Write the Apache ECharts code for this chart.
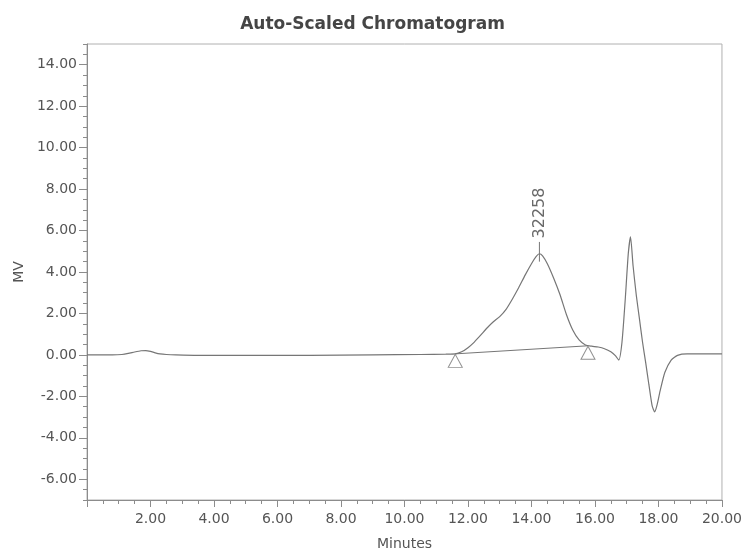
<!DOCTYPE html>
<html>
<head>
<meta charset="utf-8">
<title>Auto-Scaled Chromatogram</title>
<script src="https://cdn.jsdelivr.net/npm/echarts@6/dist/echarts.min.js"></script>
<style>
  html, body { margin: 0; padding: 0; background: #ffffff; }
  #chart { width: 745px; height: 556px; }
</style>
</head>
<body>
<div id="chart"></div>
<script>
// Detector trace: retention time (min) and signal (mV)
const timeMin = [
  0, 0.4, 0.8, 1.1, 1.3, 1.5, 1.7, 1.85, 2.0, 2.15, 2.3, 2.5, 2.8, 3.5, 5, 7, 9, 10.5, 11.3,
  11.6, 11.8, 12.0, 12.2, 12.4, 12.6, 12.8, 13.0, 13.2, 13.4, 13.6, 13.8, 14.0, 14.15, 14.25,
  14.35, 14.5, 14.7, 14.9, 15.1, 15.3, 15.5, 15.7, 15.9, 16.1, 16.3, 16.5, 16.65, 16.75,
  16.85, 16.95, 17.05, 17.12, 17.2, 17.3, 17.4, 17.5, 17.6, 17.7, 17.8, 17.88, 17.95,
  18.05, 18.2, 18.4, 18.6, 18.9, 19.5, 20
];
const signalMv = [
  0.0, 0.0, 0.0, 0.02, 0.07, 0.14, 0.2, 0.21, 0.17, 0.1, 0.05, 0.02, 0.0, -0.02, -0.02, -0.02, 0.0, 0.02, 0.04,
  0.05, 0.15, 0.35, 0.62, 0.95, 1.3, 1.6, 1.85, 2.2, 2.7, 3.25, 3.85, 4.4, 4.75, 4.88,
  4.78, 4.4, 3.7, 2.9, 1.95, 1.2, 0.72, 0.48, 0.42, 0.38, 0.3, 0.15, -0.05, -0.25,
  0.6, 2.6, 4.9, 5.7, 4.3, 2.9, 1.75, 0.6, -0.4, -1.45, -2.45, -2.75, -2.45,
  -1.75, -0.85, -0.25, -0.02, 0.05, 0.05, 0.05
];

// Integration baseline (start / end markers)
const baselineTime = [11.6, 15.78];
const baselineMv = [0.05, 0.44];

// Integrated peak: apex time, tick span and its area label
const peakTime = 14.25;
const peakTickMv = [4.5, 5.45];
const peakLabel = '32258';

// Axis tick labels
const xTickValues = [2, 4, 6, 8, 10, 12, 14, 16, 18, 20];
const yTickValues = [-6, -4, -2, 0, 2, 4, 6, 8, 10, 12, 14];

const FONT = 'DejaVu Sans';
const AXIS_COLOR = '#8c8c8c';
const TRACE_COLOR = '#767676';
const LABEL_COLOR = '#555555';

const chart = echarts.init(document.getElementById('chart'), null, { renderer: 'canvas' });

const trace = timeMin.map((t, i) => [t, signalMv[i]]);
const baseline = baselineTime.map((t, i) => [t, baselineMv[i]]);

const option = {
  backgroundColor: '#ffffff',
  animation: false,
  title: {
    text: 'Auto-Scaled Chromatogram',
    left: 'center',
    top: 11,
    textStyle: { fontFamily: FONT, fontWeight: 'bold', fontSize: 17, color: '#454545' }
  },
  grid: {
    left: 87, right: 21, top: 44, bottom: 50,
    show: true, borderColor: '#b0b0b0', borderWidth: 1, backgroundColor: 'transparent'
  },
  xAxis: [
    {
      type: 'value', min: 0, max: 20, interval: 2, position: 'bottom',
      name: 'Minutes', nameLocation: 'middle', nameGap: 37,
      nameTextStyle: { fontFamily: FONT, fontSize: 14, color: LABEL_COLOR },
      axisLine: { onZero: false, lineStyle: { color: AXIS_COLOR, width: 1 } },
      axisTick: { length: 7, lineStyle: { color: AXIS_COLOR } },
      axisLabel: {
        margin: 12, fontFamily: FONT, fontSize: 14, color: LABEL_COLOR,
        formatter: v => (xTickValues.indexOf(v) >= 0 ? v.toFixed(2) : '')
      },
      splitLine: { show: false }
    },
    {
      type: 'value', min: 0, max: 20, interval: 0.5, position: 'bottom',
      axisLine: { show: false, onZero: false },
      axisTick: { length: 4, lineStyle: { color: AXIS_COLOR } },
      axisLabel: { show: false },
      splitLine: { show: false }
    }
  ],
  yAxis: [
    {
      type: 'value', min: -7, max: 15, position: 'left',
      name: 'MV', nameLocation: 'middle', nameGap: 58, nameRotate: 90,
      nameTextStyle: { fontFamily: FONT, fontSize: 14, color: LABEL_COLOR },
      axisLine: { onZero: false, lineStyle: { color: AXIS_COLOR, width: 1 } },
      axisTick: { length: 8, customValues: yTickValues, lineStyle: { color: AXIS_COLOR } },
      axisLabel: {
        margin: 10, fontFamily: FONT, fontSize: 14, color: LABEL_COLOR,
        customValues: yTickValues,
        formatter: v => v.toFixed(2)
      },
      splitLine: { show: false }
    },
    {
      type: 'value', min: -7, max: 15, interval: 0.5, position: 'left',
      axisLine: { show: false, onZero: false },
      axisTick: { length: 4, lineStyle: { color: AXIS_COLOR } },
      axisLabel: { show: false },
      splitLine: { show: false }
    }
  ],
  series: [
    {
      name: 'trace', type: 'line', xAxisIndex: 0, yAxisIndex: 0,
      data: trace, showSymbol: false, smooth: 0.2,
      lineStyle: { color: TRACE_COLOR, width: 1.2 },
      z: 3
    },
    {
      name: 'baseline', type: 'line', xAxisIndex: 0, yAxisIndex: 0,
      data: baseline, showSymbol: false,
      lineStyle: { color: TRACE_COLOR, width: 1 },
      z: 3
    },
    {
      name: 'markers', type: 'scatter', xAxisIndex: 0, yAxisIndex: 0,
      data: baseline, symbol: 'triangle', symbolSize: [14, 13], symbolOffset: [0, 7],
      itemStyle: { color: '#ffffff', borderColor: TRACE_COLOR, borderWidth: 1 },
      z: 4
    },
    {
      name: 'apex tick', type: 'line', xAxisIndex: 0, yAxisIndex: 0,
      data: peakTickMv.map(v => [peakTime, v]),
      showSymbol: false,
      lineStyle: { color: TRACE_COLOR, width: 1 },
      z: 4
    },
    {
      name: 'apex label', type: 'scatter', xAxisIndex: 0, yAxisIndex: 0,
      data: [[peakTime, peakTickMv[1]]],
      symbolSize: 1,
      itemStyle: { color: 'rgba(0,0,0,0)' },
      label: {
        show: true, formatter: peakLabel, position: 'top', distance: 3,
        rotate: 90, align: 'left', verticalAlign: 'middle',
        fontFamily: FONT, fontSize: 16, color: '#444444'
      },
      z: 5
    }
  ]
};

chart.setOption(option);
</script>
</body>
</html>
